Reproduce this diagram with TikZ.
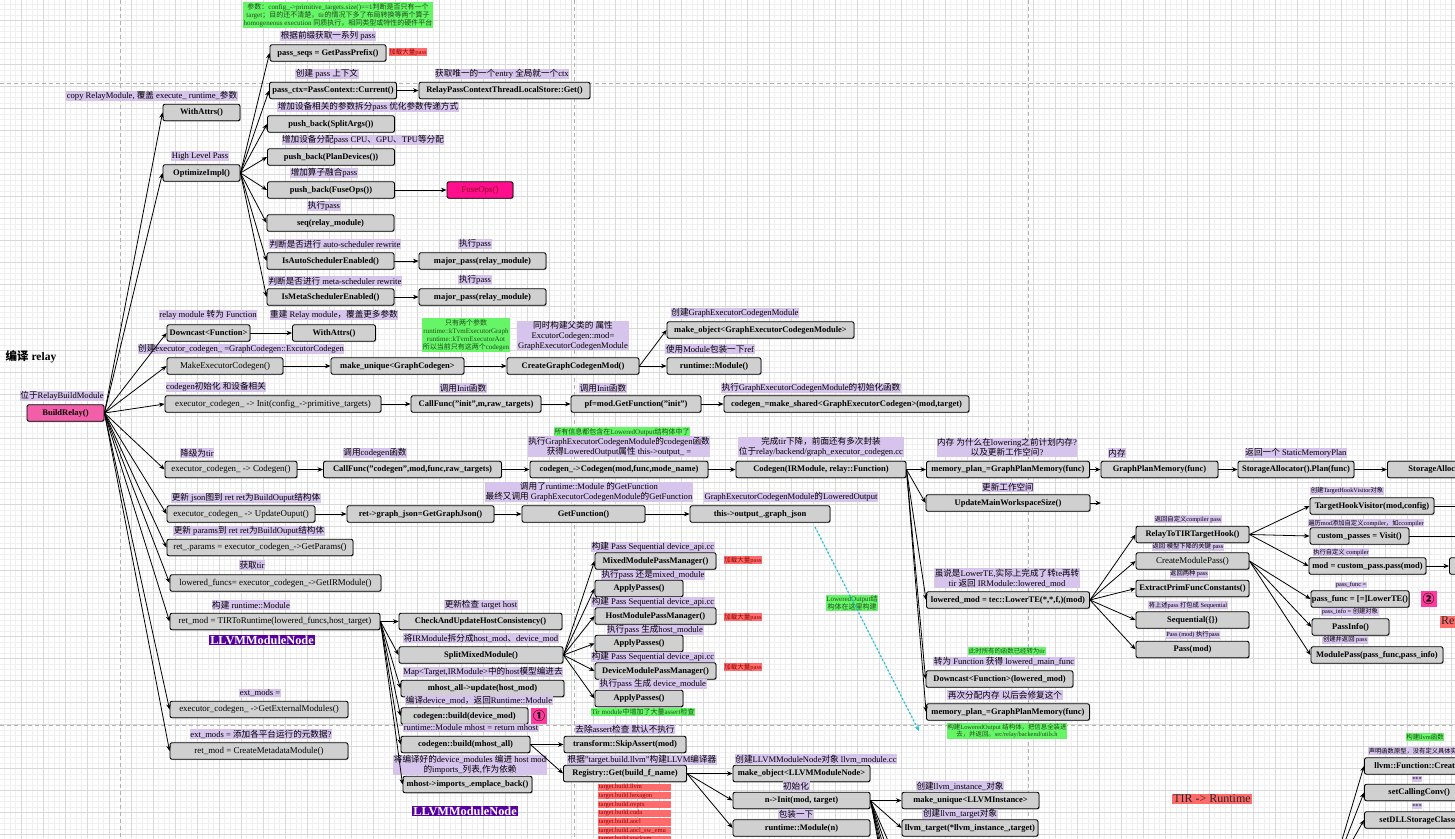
\documentclass[tikz,border=0pt]{standalone}
\usepackage{fontspec}
\setmainfont{Liberation Serif}
\newfontfamily\cjkfont{Noto Sans CJK SC}
\usetikzlibrary{arrows.meta,shadows}
% automatic CJK font switching (no grouping), fixed class number
\chardef\mycjkcls=7
\newcount\mycc
\def\mysetcls#1#2#3{\mycc=#1\relax\loop\XeTeXcharclass\mycc=#3\relax\advance\mycc by 1\relax\ifnum\mycc<#2\relax\repeat}
\mysetcls{0}{"3000}{0}
\mysetcls{"3000}{"3040}{7}
\mysetcls{"4E00}{"A000}{7}
\mysetcls{"FF00}{"FFF0}{7}
\mysetcls{"2460}{"2500}{7}
\XeTeXinterchartoks 0 7 = {\cjkfont}
\XeTeXinterchartoks 1 7 = {\cjkfont}
\XeTeXinterchartoks 2 7 = {\cjkfont}
\XeTeXinterchartoks 3 7 = {\cjkfont}
\XeTeXinterchartoks 4095 7 = {\cjkfont}
\XeTeXinterchartoks 7 0 = {\rmfamily}
\XeTeXinterchartoks 7 1 = {\rmfamily}
\XeTeXinterchartoks 7 2 = {\rmfamily}
\XeTeXinterchartoks 7 3 = {\rmfamily}
\XeTeXinterchartoks 7 4095 = {\rmfamily}
\XeTeXinterchartokenstate=1
\definecolor{boxgray}{HTML}{D0D0D0}
\definecolor{lav}{HTML}{D6C4EC}
\definecolor{grn}{HTML}{66F566}
\definecolor{gtext}{HTML}{1E4A1E}
\definecolor{redl}{HTML}{FF6B6B}
\definecolor{rtext}{HTML}{8B0000}
\definecolor{brpink}{HTML}{F25EA8}
\definecolor{fusepink}{HTML}{FF0F8C}
\definecolor{fusetext}{HTML}{8A0020}
\definecolor{circpink}{HTML}{FF3C9E}
\definecolor{llvmpurple}{HTML}{58009E}
\definecolor{cyanline}{HTML}{20C0D0}
\newcommand\mybx{\fontsize{8.5}{10}\selectfont\bfseries}
\newcommand\mybxr{\fontsize{8.9}{10}\selectfont}
\newcommand\mylb{\fontsize{8.6}{9.8}\selectfont}
\newcommand\mylbs{\fontsize{6.3}{7.2}\selectfont}
\newcommand\mygn{\fontsize{7}{8}\selectfont}
\newcommand\mygns{\fontsize{6.4}{7.6}\selectfont}
\newcommand\myrd{\fontsize{6.5}{7.2}\selectfont}
\newcommand\mytitle{\fontsize{11.5}{13}\selectfont\bfseries}
\tikzset{
 bx/.style={draw=black, line width=0.9pt, rounded corners=2pt, fill=boxgray, minimum height=16.5pt, inner sep=1pt, font=\mybx, text=black, drop shadow={shadow xshift=0.8pt, shadow yshift=-0.8pt, opacity=0.45}},
 bxr/.style={bx, font=\mybxr},
 lb/.style={fill=lav, inner sep=0.6pt, font=\mylb, text=black, align=center},
 lbs/.style={lb, font=\mylbs},
 gn/.style={fill=grn, inner sep=0.8pt, font=\mygn, text=gtext, align=center},
 rd/.style={fill=redl, inner sep=0.8pt, font=\myrd, text=rtext},
 redbig/.style={fill=redl, inner sep=1pt, font=\fontsize{12}{13}\selectfont, text=black!85},
 llvm/.style={fill=llvmpurple, text=white, inner sep=1pt, font=\fontsize{12.3}{14}\selectfont\bfseries},
 circ/.style={fill=circpink, inner sep=0.5pt, minimum size=16pt, font=\fontsize{12}{13}\selectfont\bfseries},
 ar/.style={-{Stealth[length=5.5pt,width=4.5pt]}, line width=0.8pt},
 gmaj/.style={draw=black!15, line width=0.6pt},
 gmin/.style={draw=black!6, line width=0.4pt},
 pageline/.style={draw=black!30, line width=1pt, dash pattern=on 4pt off 3pt},
}
\begin{document}
\begin{tikzpicture}[x=1pt,y=-1pt]
\useasboundingbox (0,0) rectangle (1455,838);
\clip (0,0) rectangle (1455,838);
\fill[white] (0,0) rectangle (1455,838);
\foreach \i in {-4,...,264} \draw[gmin] ({21+5.5*\i},0) -- ({21+5.5*\i},838);
\foreach \j in {-4,...,152} \draw[gmin] (0,{20.5+5.5*\j}) -- (1455,{20.5+5.5*\j});
\foreach \i in {0,...,65} \draw[gmaj] ({21+22*\i},0) -- ({21+22*\i},838);
\foreach \j in {0,...,37} \draw[gmaj] (0,{20.5+22*\j}) -- (1455,{20.5+22*\j});
\draw[pageline] (120,0) -- (120,838);
\draw[pageline] (574,0) -- (574,838);
\draw[pageline] (1028,0) -- (1028,838);
\draw[pageline] (0,83) -- (1455,83);
\draw[pageline] (0,725) -- (1455,725);

% ---------- top: OptimizeImpl ----------
\node[gn] (gnote) at (338,15) {参数：config\_->primitive\_targets.size()==1判断是否只有一个\\target；目的还不清楚，tir的情况下多了布局转换等两个算子\\homogeneous execution 同质执行，相同类型或特性的硬件平台};
\node[lb] (l1) at (328,36) {根据前缀获取一系列 pass};
\node[bx, minimum width=116] (pseq) at (328,53) {pass\_seqs = GetPassPrefix()};
\node[rd] (r1) at (408,52) {加载大量pass};
\node[lb] (l2) at (327,74) {创建 pass 上下文};
\node[bx, minimum width=127] (pctx) at (333,90.5) {pass\_ctx=PassContext::Current()};
\node[lb] (l3) at (502,74) {获取唯一的一个entry  全局就一个ctx};
\node[bx, minimum width=171] (rpc) at (504.5,90.5) {RelayPassContextThreadLocalStore::Get()};
\node[lb] (l4) at (368,107) {增加设备相关的参数拆分pass  优化参数传递方式};
\node[bx, minimum width=127] (split) at (331,124) {push\_back(SplitArgs())};
\node[lb] (l5) at (363,140) {增加设备分配pass  CPU、GPU、TPU等分配};
\node[bx, minimum width=127] (plan) at (331,157) {push\_back(PlanDevices())};
\node[lb] (l6) at (324,173) {增加算子融合pass};
\node[bx, minimum width=127] (fuse) at (331,190) {push\_back(FuseOps())};
\node[bx, fill=fusepink, text=fusetext, font=\mybxr, minimum width=66] (fuseops) at (480,190) {FuseOps()};
\node[lb] (l7) at (324,206) {执行pass};
\node[bx, minimum width=127] (seq) at (330.5,223) {seq(relay\_module)};
\node[lb] (l8) at (335,244) {判断是否进行 auto-scheduler rewrite};
\node[bx, minimum width=127] (isauto) at (330.5,261) {IsAutoSchedulerEnabled()};
\node[lb] (l9) at (475,244) {执行pass};
\node[bx, minimum width=127] (maj1) at (482.5,261) {major\_pass(relay\_module)};
\node[lb] (l10) at (335,281) {判断是否进行 meta-scheduler rewrite};
\node[bx, minimum width=127] (ismeta) at (330.5,297) {IsMetaSchedulerEnabled()};
\node[lb] (l11) at (475,280) {执行pass};
\node[bx, minimum width=127] (maj2) at (482.5,297) {major\_pass(relay\_module)};
\node[lb] (l12) at (152,96) {copy RelayModule, 覆盖 execute\_ runtime\_参数};
\node[bx, minimum width=77] (wa1) at (201.5,112.5) {WithAttrs()};
\node[lb] (l13) at (200,156) {High Level Pass};
\node[bx, minimum width=77] (opt) at (201.5,173) {OptimizeImpl()};

% ---------- middle ----------
\node[lb] (l14) at (208,315) {relay module 转为 Function};
\node[bx, minimum width=83] (down1) at (208.5,333) {Downcast<Function>};
\node[lb] (l15) at (334,315) {重建 Relay module，覆盖更多参数};
\node[bx, minimum width=83] (wa2) at (334,333) {WithAttrs()};
\node[font=\mytitle] (title) at (31,357) {编译 relay};
\node[lb] (l16) at (241,349) {创建executor\_codegen\_ =GraphCodegen::ExcutorCodegen};
\node[bxr, minimum width=116] (mec) at (225,366) {MakeExecutorCodegen()};
\node[bx, minimum width=133] (mug) at (397.5,366) {make\_unique<GraphCodegen>};
\node[gn] (g2) at (466,335) {只有两个参数\\runtime::kTvmExecutorGraph\\runtime::kTvmExecutorAot\\所以当前只有这两个codegen};
\node[lb] (l17) at (573,335.5) {同时构建父类的 属性\\ExcutorCodegen::mod=\\GraphExecutorCodegenModule};
\node[bx, minimum width=132] (cgm) at (573,366) {CreateGraphCodegenMod()};
\node[lb] (l18) at (735,313) {创建GraphExecutorCodegenModule};
\node[bx, minimum width=187] (mko) at (760.5,330) {make\_object<GraphExecutorCodegenModule>};
\node[lb] (l19) at (710,349) {使用Module包装一下ref};
\node[bx, minimum width=94] (rtm) at (714,366) {runtime::Module()};
\node[lb] (l20) at (216,387) {codegen初始化 和设备相关};
\node[lb] (l21) at (62,396) {位于RelayBuildModule};
\node[bx, fill=brpink, minimum width=77] (br) at (65.5,413) {BuildRelay()};
\node[bxr, minimum width=216] (init) at (273,404) {executor\_codegen\_ -> Init(config\_->primitive\_targets)};
\node[lb] (l22) at (463,388) {调用Init函数};
\node[bx, minimum width=130] (cfi) at (476,404) {CallFunc("init",m,raw\_targets)};
\node[lb] (l23) at (603,388) {调用Init函数};
\node[bx, minimum width=130] (pf) at (636,404) {pf=mod.GetFunction("init")};
\node[lb] (l24) at (811,388) {执行GraphExecutorCodegenModule的初始化函数};
\node[bx, minimum width=245] (ms) at (846.5,404) {codegen\_=make\_shared<GraphExecutorCodegen>(mod,target)};

\node[lb] (l25) at (197,453) {降级为tir};
\node[bxr, minimum width=132] (ecg) at (231,469.5) {executor\_codegen\_ -> Codegen()};
\node[lb] (l26) at (375,453) {调用codegen函数};
\node[bx, minimum width=178] (cfc) at (412.5,469.5) {CallFunc("codegen",mod,func,raw\_targets)};
\node[gn] (g3) at (622,432) {所有信息都包含在LoweredOutput结构体中了};
\node[lb] (l27) at (619,446.5) {执行GraphExecutorCodegenModule的codegen函数\\获得LoweredOutput属性  this->output\_ =};
\node[bx, minimum width=178] (cgc) at (619,469.5) {codegen\_->Codegen(mod,func,mode\_name)};
\node[lb] (l28) at (821,447) {完成tir下降，前面还有多次封装\\位于relay/backend/graph\_executor\_codegen.cc};
\node[bx, minimum width=170] (cgir) at (821,469.5) {Codegen(IRModule, relay::Function)};
\node[lb] (l29) at (1007,447) {内存  为什么在lowering之前计划内存?\\以及更新工作空间?};
\node[bx, minimum width=163] (mp1) at (1008,469.5) {memory\_plan\_=GraphPlanMemory(func)};
\node[lb] (l30) at (1117,453) {内存};
\node[bx, minimum width=117] (gpm) at (1159.5,469.5) {GraphPlanMemory(func)};
\node[lb] (l31) at (1296,453) {返回一个 StaticMemoryPlan};
\node[bx, minimum width=116] (sap) at (1296,469.5) {StorageAllocator().Plan(func)};
\node[bx, anchor=west, inner xsep=21pt] (sa2) at (1387,469.5) {StorageAllocator};
\node[lb] (l32) at (1008,487) {更新工作空间};
\node[bx, minimum width=164] (umw) at (1008,503) {UpdateMainWorkspaceSize()};
\coordinate (umwend) at (1101,503);

\node[lb] (l33) at (246,498) {更新 json图到 ret   ret为BuildOuput结构体};
\node[bxr, minimum width=148] (upd) at (241,514) {executor\_codegen\_ -> UpdateOuput()};
\node[bx, minimum width=147] (gj) at (420.5,514) {ret->graph\_json=GetGraphJson()};
\node[lb] (l34) at (589,492) {调用了runtime::Module 的GetFunction\\最终又调用 GraphExecutorCodegenModule的GetFunction};
\node[bx, minimum width=123] (gf) at (583.5,514) {GetFunction()};
\node[lb] (l35) at (791,497) {GraphExecutorCodegenModule的LoweredOutput};
\node[bx, minimum width=140] (ogj) at (760,514) {this->output\_.graph\_json};
\node[gn] (g4) at (852,603) {LoweredOutput结\\构体在这里构建};
\coordinate (cyA) at (815,527);
\coordinate (cyB) at (919,731);

\node[lb] (l36) at (249,531) {更新 params到 ret   ret为BuildOuput结构体};
\node[bxr, minimum width=186] (gp) at (260,547.5) {ret\_.params = executor\_codegen\_->GetParams()};
\node[lb] (l37) at (252,565) {获取tir};
\node[bxr, minimum width=211] (lf) at (275.5,583) {lowered\_funcs= executor\_codegen\_->GetIRModule()};
\node[lb] (l38) at (251,605) {构建 runtime::Module};
\node[bxr, minimum width=210] (tir) at (275,621.5) {ret\_mod = TIRToRuntime(lowered\_funcs,host\_target)};
\node[llvm] (llvm1) at (262,640) {LLVMModuleNode};
\node[lb] (l39) at (260,693) {ext\_mods =};
\node[bxr, minimum width=178] (gem) at (259,709.5) {executor\_codegen\_ ->GetExternalModules()};
\node[lb] (l40) at (261,734) {ext\_mods =   添加各平台运行的元数据?};
\node[bxr, minimum width=178] (cmm) at (259,751) {ret\_mod = CreateMetadataModule()};

% ---------- bottom middle ----------
\node[lb] (l41) at (481,605) {更新检查 target host};
\node[bx, minimum width=163] (chk) at (480.5,621.5) {CheckAndUpdateHostConsistency()};
\node[lb] (l42) at (481,638) {将IRModule拆分成host\_mod、device\_mod};
\node[bx, minimum width=164] (smm) at (481,655) {SplitMixedModule()};
\node[lb] (l43) at (483,672) {Map<Target,IRModule>中的host模型编进去};
\node[bx, minimum width=163] (mha) at (482.5,688.5) {mhost\_all->update(host\_mod)};
\node[lb] (l44) at (479,700) {编译device\_mod，返回Runtime::Module};
\node[bx, minimum width=127] (cbd) at (464.5,716) {codegen::build(device\_mod)};
\node[circ] (c1) at (539,716) {①};
\node[lb] (l45) at (471,728) {runtime::Module mhost =    return mhost};
\node[bx, minimum width=129] (cbm) at (465.5,744.5) {codegen::build(mhost\_all)};
\node[lb] (l46) at (470,765) {将编译好的device\_modules 编进 host mod\\的imports\_列表,作为依赖};
\node[bx, minimum width=129] (imp) at (467.5,784.5) {mhost->imports\_.emplace\_back()};
\node[llvm] (llvm2) at (465,811) {LLVMModuleNode};

\node[lb] (l47) at (653,547) {构建 Pass  Sequential  device\_api.cc};
\node[bx, minimum width=121] (mmp) at (655.5,561) {MixedModulePassManager()};
\node[rd] (r2) at (743,560) {加载大量pass};
\node[lb] (l48) at (653,575) {执行pass   还是mixed\_module};
\node[bx, minimum width=88] (ap1) at (639,588.5) {ApplyPasses()};
\node[lb] (l49) at (653,602) {构建 Pass  Sequential  device\_api.cc};
\node[bx, minimum width=121] (hmp) at (655.5,616) {HostModulePassManager()};
\node[rd] (r3) at (743,617) {加载大量pass};
\node[lb] (l50) at (655,630) {执行pass   生成host\_module};
\node[bx, minimum width=88] (ap2) at (639,643.5) {ApplyPasses()};
\node[lb] (l51) at (653,657) {构建 Pass  Sequential  device\_api.cc};
\node[bx, minimum width=121] (dmp) at (655.5,671) {DeviceModulePassManager()};
\node[rd] (r4) at (743,667) {加载大量pass};
\node[lb] (l52) at (653,684) {执行pass   生成 device\_module};
\node[bx, minimum width=88] (ap3) at (639,698.5) {ApplyPasses()};
\node[gn] (g5) at (643,712) {Tir module中增加了大量assert检查};

\node[lb] (l53) at (625,729) {去除assert检查  默认不执行};
\node[bx, minimum width=122] (ska) at (625,744.5) {transform::SkipAssert(mod)};
\node[lb] (l54) at (642,760) {根据"target.build.llvm"构建LLVM编译器};
\node[bx, minimum width=123] (reg) at (625,773.5) {Registry::Get(build\_f\_name)};
\foreach \t [count=\i] in {llvm,hexagon,nvptx,cuda,aocl,aocl\_sw\_emu,stackvm}
  \node[rd, anchor=west, text width=72, align=left, inner sep=0.6pt] (tb\i) at (598,{778.5+8.7*\i}) {target.build.\t};

\node[lb] (l55) at (816,759) {创建LLVMModuleNode对象  llvm\_module.cc};
\node[bx, minimum width=137] (mol) at (801.5,773.5) {make\_object<LLVMModuleNode>};
\node[lb] (l56) at (796,786) {初始化};
\node[bx, minimum width=137] (ninit) at (801.5,800.5) {n->Init(mod, target)};
\node[lb] (l57) at (796,814) {包装一下};
\node[bx, minimum width=137] (rmn) at (801.5,828) {runtime::Module(n)};
\node[lb] (l58) at (960,786) {创建llvm\_instance\_对象};
\node[bx, minimum width=137] (mul) at (970.5,800.5) {make\_unique<LLVMInstance>};
\node[lb] (l59) at (960,814) {创建llvm\_target对象};
\node[bx, minimum width=136] (llt) at (970,828) {llvm\_target(*llvm\_instance\_,target)};
\foreach \k in {1,...,6} \coordinate (nd\k) at (900,{850+18*\k});

% ---------- right ----------
\node[lb] (l60) at (1007,578) {虽说是LowerTE,实际上完成了转te再转\\tir  返回 IRModule::lowered\_mod};
\node[bx, minimum width=163] (lm) at (1008,600) {lowered\_mod = tec::LowerTE(*,*,f,)(mod)};
\node[gn, font=\mygns] (g6) at (1007,651) {此时所有的函数已经转为tir};
\node[lb] (l61) at (1004,661.5) {转为 Function    获得 lowered\_main\_func};
\node[bx, minimum width=147] (dlm) at (999.5,679) {Downcast<Function>(lowered\_mod)};
\node[lb] (l62) at (1005,695) {再次分配内存  以后会修复这个};
\node[bx, minimum width=163] (mp2) at (1008,712) {memory\_plan\_=GraphPlanMemory(func)};
\node[gn, font=\mygns] (g7) at (1007,731) {构建LoweredOutput 结构体，把信息全装进\\去，并返回。src/relay/backend/utils.h};

\node[lbs] (l63) at (1188,519) {返回自定义compiler pass};
\node[bx, minimum width=113] (rth) at (1192.5,534.5) {RelayToTIRTargetHook()};
\node[lbs] (l64) at (1188,547) {返回 模型下降的关键 pass};
\node[bxr, minimum width=113] (cmp) at (1192.5,561) {CreateModulePass()};
\node[lbs] (l65) at (1189,574) {返回两种 pass};
\node[bx, minimum width=113] (epf) at (1192.5,588.5) {ExtractPrimFuncConstants()};
\node[lbs] (l66) at (1188,605) {将上述pass 打包成 Sequential};
\node[bx, minimum width=113] (sq) at (1192.5,620) {Sequential(\{\})};
\node[lbs] (l67) at (1193,635) {Pass (mod) 执行pass};
\node[bx, minimum width=113] (pm) at (1192.5,649.5) {Pass(mod)};

\node[lbs] (l68) at (1347,491) {创建TargetHookVisitor对象};
\node[bx, minimum width=124] (thv) at (1372,506) {TargetHookVisitor(mod,config)};
\coordinate (thvend) at (1480,506);
\node[lbs] (l69) at (1366,523) {遍历mod添加自定义compiler，如ccompiler};
\node[bx, minimum width=99] (cpv) at (1359.5,536) {custom\_passes = Visit()};
\coordinate (cpvend) at (1480,536);
\node[lbs] (l70) at (1341,552) {执行自定义 compiler};
\node[bx, minimum width=117] (mcp) at (1367.5,566) {mod = custom\_pass.pass(mod)};
\node[bx, minimum width=60, anchor=west] (mcp2) at (1449,566) {};
\node[lbs] (l71) at (1351,585) {pass\_func =};
\node[bx, minimum width=97] (pfl) at (1360,599) {pass\_func = [=]LowerTE()};
\node[circ] (c2) at (1428.5,599) {②};
\node[lbs] (l72) at (1350,612) {pass\_info = 创建对象};
\node[bx, minimum width=77] (pinf) at (1350.5,627) {PassInfo()};
\node[lbs] (l73) at (1345,640) {创建并返回 pass};
\node[bx, minimum width=132] (mpass) at (1377,655) {ModulePass(pass\_func,pass\_info)};
\node[redbig, anchor=west] (rr) at (1440,622) {Relay -> TIR};

\node[redbig] (tirrt) at (1212,799) {TIR -> Runtime};

\node[gn, font=\mygns] (g8) at (1425,737) {构建llvm函数};
\node[lbs, anchor=west] (l74) at (1368,751) {声明函数原型，没有定义具体实现};
\node[bx, anchor=west, inner xsep=10pt] (lfc) at (1364,766) {llvm::Function::Create};
\node[lbs] (l75) at (1417,779) {***};
\node[bx, anchor=west, inner xsep=24pt] (scc) at (1364,792.5) {setCallingConv()};
\node[lbs] (l76) at (1417,806) {***};
\node[bx, anchor=west, inner xsep=15pt] (sdl) at (1364,820) {setDLLStorageClass()};
\coordinate (lsrc) at (1330,880);

% ---------- connectors ----------
\foreach \t in {wa1,opt,down1,mec,init,ecg,upd,gp,lf,tir,gem,cmm}
  \draw[ar] (br.east) -- (\t.west);
\foreach \t in {pseq,pctx,split,plan,fuse,seq,isauto,ismeta}
  \draw[ar] (opt.east) -- (\t.west);
\draw[ar] (pctx) -- (rpc);
\draw[ar] (fuse) -- (fuseops);
\draw[ar] (isauto) -- (maj1);
\draw[ar] (ismeta) -- (maj2);
\draw[ar] (down1) -- (wa2);
\draw[ar] (mec) -- (mug);
\draw[ar] (mug) -- (cgm);
\draw[ar] (cgm) -- (rtm);
\draw[ar] (cgm.east) -- (mko.west);
\draw[ar] (init) -- (cfi);
\draw[ar] (cfi) -- (pf);
\draw[ar] (pf) -- (ms);
\draw[ar] (ecg) -- (cfc);
\draw[ar] (cfc) -- (cgc);
\draw[ar] (cgc) -- (cgir);
\draw[ar] (cgir) -- (mp1);
\draw[ar] (mp1) -- (gpm);
\draw[ar] (gpm) -- (sap);
\draw[ar] (sap.east) -- (sa2.west);
\draw[ar] (cgir.east) -- (umw.west);
\draw[ar] (umw.east) -- (umwend);
\foreach \t in {lm,dlm,mp2}
  \draw[ar] (cgir.east) -- (\t.west);
\draw[ar] (upd) -- (gj);
\draw[ar] (gj) -- (gf);
\draw[ar] (gf) -- (ogj);
\draw[-{Stealth[length=5.5pt,width=4.5pt]}, draw=cyanline, fill=cyanline, line width=1.2pt, dash pattern=on 2pt off 2pt] (cyA) -- (cyB);
\foreach \t in {chk,smm,mha,cbd,cbm,imp}
  \draw[ar] (tir.east) -- (\t.west);
\foreach \t in {mmp,ap1,hmp,ap2,dmp,ap3}
  \draw[ar] (smm.east) -- (\t.west);
\draw[ar] (cbm.east) -- (ska.west);
\draw[ar] (cbm.east) -- (reg.west);
\foreach \t in {mol,ninit,rmn}
  \draw[ar] (reg.east) -- (\t.west);
\draw[ar] (ninit.east) -- (mul.west);
\draw[ar] (ninit.east) -- (llt.west);
\foreach \k in {1,...,6} \draw[ar] (ninit.east) -- (nd\k);
\foreach \t in {rth,cmp,epf,sq,pm}
  \draw[ar] (lm.east) -- (\t.west);
\foreach \t in {thv,cpv,mcp}
  \draw[ar] (rth.east) -- (\t.west);
\foreach \t in {pfl,pinf,mpass}
  \draw[ar] (cmp.east) -- (\t.west);
\draw[ar] (thv.east) -- (thvend);
\draw[ar] (cpv.east) -- (cpvend);
\draw[ar] (mcp) -- (mcp2);
\foreach \t in {lfc,scc,sdl}
  \draw[ar] (lsrc) -- (\t.west);
\end{tikzpicture}
\end{document}
